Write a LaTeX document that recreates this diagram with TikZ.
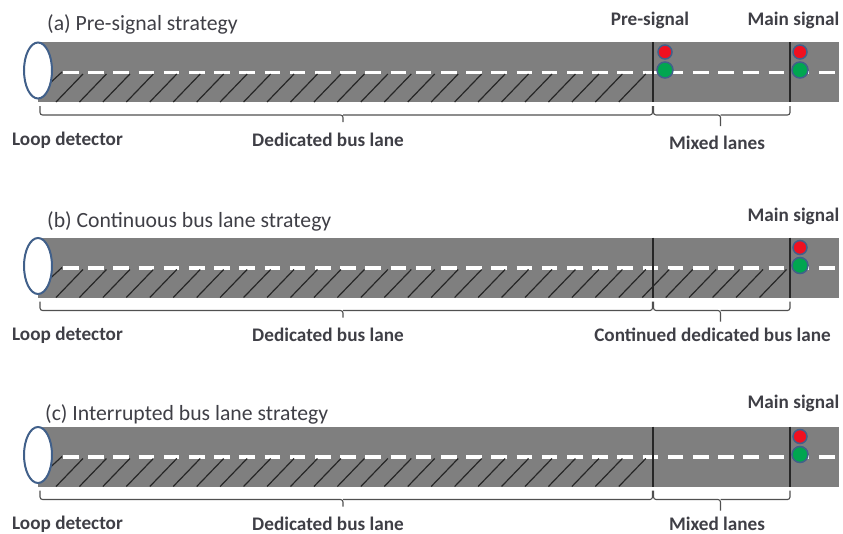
\documentclass[tikz,border=0pt]{standalone}
\usepackage{fontspec}
\usetikzlibrary{shapes.geometric}
\setmainfont{Carlito}
\definecolor{road}{HTML}{7F7F7F}
\definecolor{txt}{HTML}{3F3F46}
\definecolor{edge}{HTML}{41608A}
\definecolor{sigred}{HTML}{F01020}
\definecolor{siggreen}{HTML}{00A650}
\definecolor{brk}{HTML}{505050}
\tikzset{
  title/.style={anchor=west,text=txt,font=\fontsize{21.7}{24}\selectfont,inner sep=0pt},
  lab/.style={text=txt,font=\fontsize{19.2}{22}\selectfont\bfseries,inner sep=0pt},
  roadbody/.style={fill=road,draw=none},
  loopdet/.style={ellipse,draw=edge,line width=2pt,fill=white,minimum width=28pt,minimum height=56pt,inner sep=0pt},
  laneline/.style={white,line width=3.8pt,dash pattern=on 15.5pt off 9.7pt},
  hatch/.style={black!85,line width=1.2pt},
  stopline/.style={black!85,line width=1.3pt},
  bracketline/.style={brk,line width=1.1pt,rounded corners=2.5pt},
  redlamp/.style={circle,fill=sigred,draw=edge,line width=1.5pt,minimum size=14pt,inner sep=0pt},
  greenlamp/.style={circle,fill=siggreen,draw=edge,line width=1.5pt,minimum size=16pt,inner sep=0pt},
}
% #1 name, #2 road top y, #3 last hatch index
\newcommand{\roadrow}[3]{%
  \fill[roadbody] (38,#2) rectangle (839,#2+60);
  \draw[laneline] (63,#2+30.5) -- (839,#2+30.5);
  \draw[hatch] (50,#2+41) -- (62,#2+30);
  \foreach \k in {0,...,#3} {
    \draw[hatch] ({56+23.45*\k},#2+60) -- ({56+23.45*\k+27},#2+32);
  }
  \node[loopdet] (#1loop) at (38,#2+28.5) {};
  \coordinate (#1t1) at (653,#2);
  \coordinate (#1b1) at (653,#2+60);
  \coordinate (#1t2) at (790,#2);
  \coordinate (#1b2) at (790,#2+60);
  \draw[stopline] (#1t1) -- (#1b1);
  \draw[stopline] (#1t2) -- (#1b2);
  \node[redlamp] (#1mr) at (800,#2+10) {};
  \node[greenlamp] (#1mg) at (800,#2+28) {};
  \coordinate (#1ba) at (40,#2+64);
  \coordinate (#1bb) at (652.5,#2+64);
  \coordinate (#1bc) at (653.5,#2+64);
  \coordinate (#1bd) at (790,#2+64);
  \draw[bracketline] (#1ba) -- (40,#2+73) -- (343,#2+73) -- (343,#2+80);
  \draw[bracketline] (343,#2+73) -- (652.5,#2+73) -- (#1bb);
  \draw[bracketline] (#1bc) -- (653.5,#2+73) -- (720.5,#2+73) -- (720.5,#2+84);
  \draw[bracketline] (720.5,#2+73) -- (790,#2+73) -- (#1bd);
}
\begin{document}
\begin{tikzpicture}[x=1pt,y=-1pt]
\useasboundingbox (0,0) rectangle (843,533);
\roadrow{a}{42}{24}
\roadrow{b}{237.5}{30}
\roadrow{c}{426.5}{24}
% pre-signal in row a
\node[redlamp] (apr) at (665,52) {};
\node[greenlamp] (apg) at (665,70) {};
% titles
\node[title] (ta) at (47,24) {(a) Pre-signal strategy};
\node[title] (tb) at (47,221) {(b) Continuous bus lane strategy};
\node[title] (tc) at (45,414) {(c) Interrupted bus lane strategy};
% labels
\node[lab] (la1) at (67.5,140) {Loop detector};
\node[lab] (la2) at (328,140) {Dedicated bus lane};
\node[lab] (la3) at (717,143) {Mixed lanes};
\node[lab] (la4) at (650,20) {Pre-signal};
\node[lab] (la5) at (793.5,20) {Main signal};
\node[lab] (lb1) at (67.5,335) {Loop detector};
\node[lab] (lb2) at (328,335) {Dedicated bus lane};
\node[lab] (lb3) at (712.5,335) {Continued dedicated bus lane};
\node[lab] (lb5) at (793.5,216) {Main signal};
\node[lab] (lc1) at (67.5,524) {Loop detector};
\node[lab] (lc2) at (328,524) {Dedicated bus lane};
\node[lab] (lc3) at (717,524) {Mixed lanes};
\node[lab] (lc5) at (793.5,403) {Main signal};
\end{tikzpicture}
\end{document}
